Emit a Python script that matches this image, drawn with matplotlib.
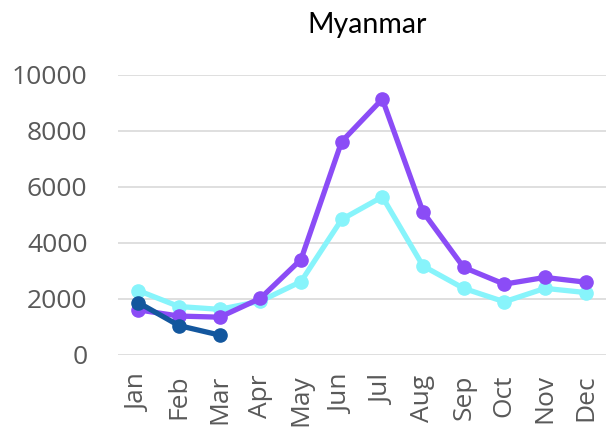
import matplotlib
matplotlib.use("Agg")
from matplotlib import pyplot as plt

months = ["Jan", "Feb", "Mar", "Apr", "May", "Jun",
          "Jul", "Aug", "Sep", "Oct", "Nov", "Dec"]

# three series
cyan_vals = [2300, 1730, 1630, 1920, 2620, 4840, 5650, 3180, 2380, 1900, 2380, 2230]
purple_vals = [1610, 1390, 1350, 2020, 3410, 7620, 9140, 5110, 3130, 2530, 2770, 2600]
blue_vals = [1870, 1050, 710]

y_ticks = [0, 2000, 4000, 6000, 8000, 10000]

fig = plt.figure(figsize=(6.11, 4.28), dpi=100)
ax = fig.add_axes([0.1931, 0.1706, 0.7987, 0.6542])

x = list(range(len(months)))
ax.plot(x, cyan_vals, color="#87F4FB", lw=3.8, marker="o", ms=9.5, zorder=3)
ax.plot(x, purple_vals, color="#8B4CF6", lw=3.8, marker="o", ms=9.5, zorder=4)
ax.plot(x[:len(blue_vals)], blue_vals, color="#13579E", lw=3.8, marker="o", ms=9.5, zorder=5)

ax.set_xlim(-0.5, len(months) - 0.5)
ax.set_ylim(0, 10000)
ax.set_yticks(y_ticks)
ax.set_yticklabels([str(v) for v in y_ticks], family="Open Sans", fontsize=19, color="#595959")
ax.set_xticks(x)
ax.set_xticklabels(months, rotation=90, family="Open Sans", fontsize=19, color="#595959")
ax.tick_params(length=0)
ax.tick_params(axis="y", pad=22)
ax.tick_params(axis="x", pad=14)

ax.grid(axis="y", color="#D9D9D9", lw=1.2, zorder=0)
ax.set_axisbelow(True)
for s in ax.spines.values():
    s.set_visible(False)

fig.text(0.6, 1 - 25 / 428, "Myanmar", family="Lato", fontsize=20.5,
         ha="center", va="center", color="black")

fig.savefig("out.png", dpi=100)
